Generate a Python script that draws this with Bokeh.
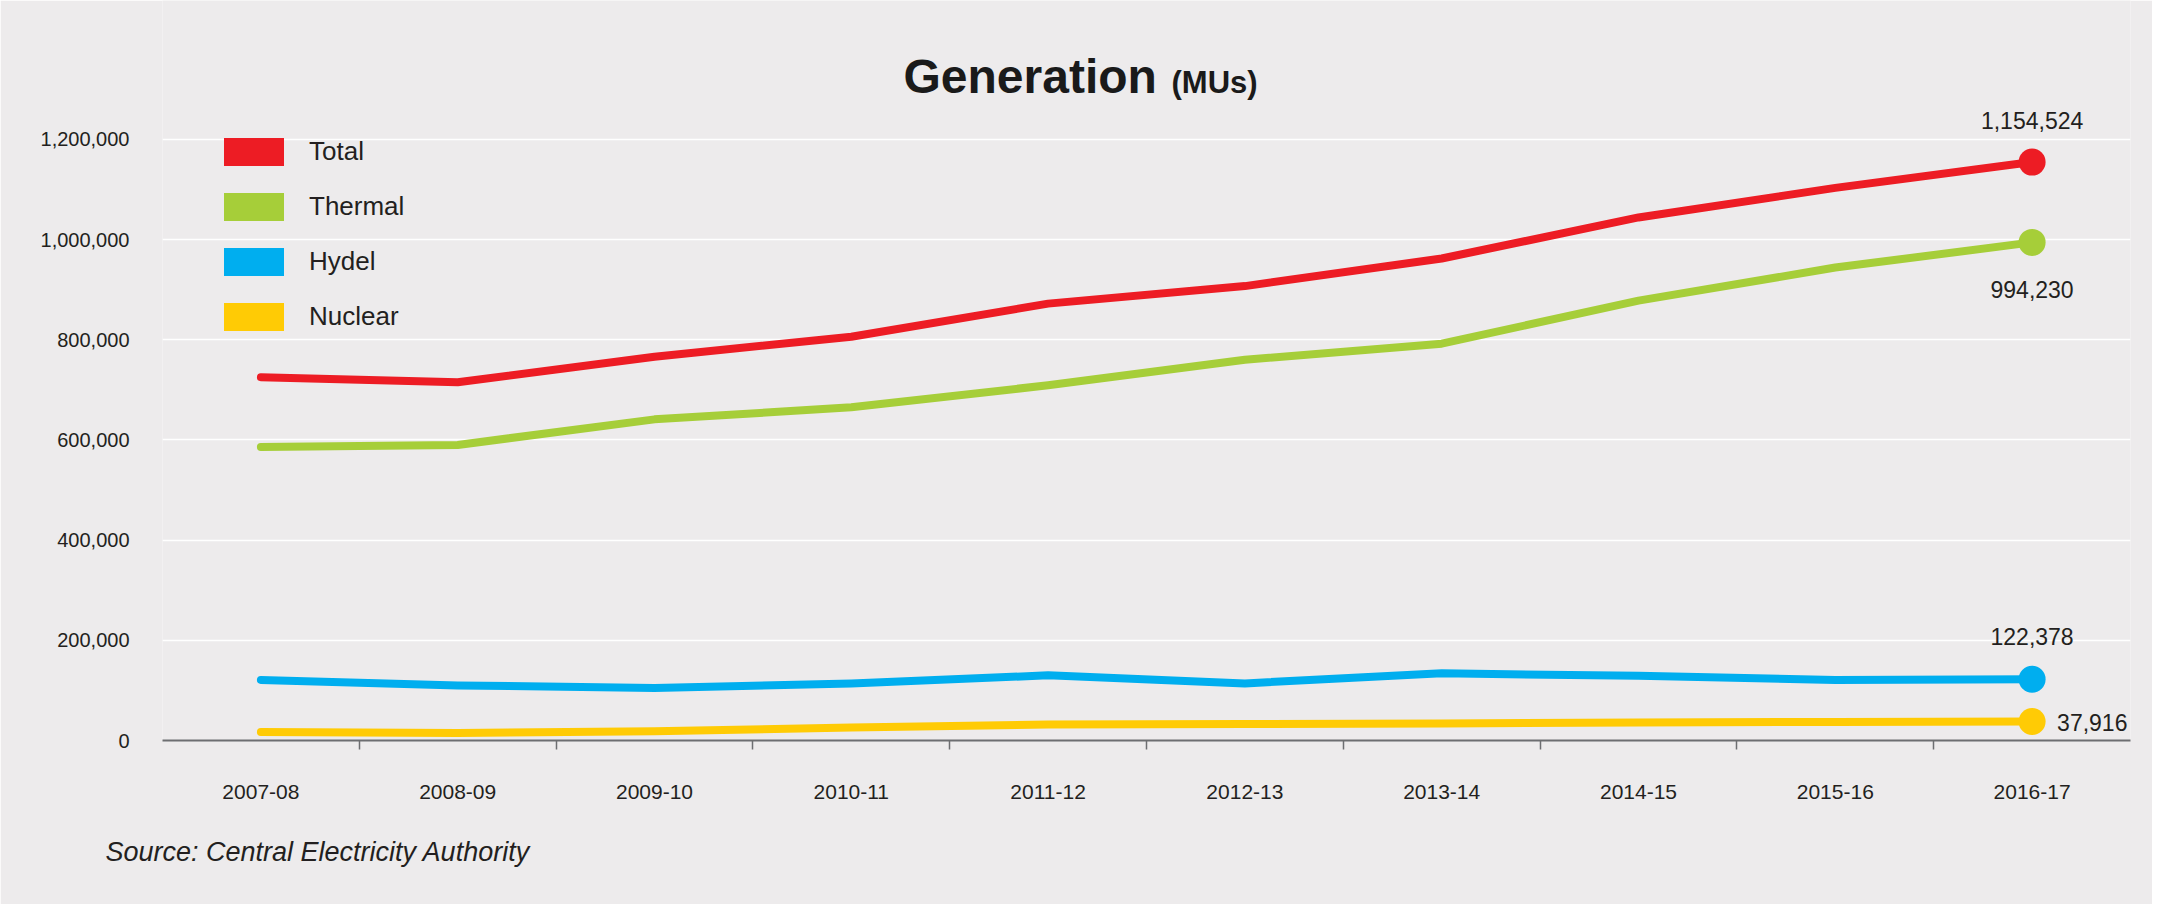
from bokeh.plotting import figure
from bokeh.models import (Range1d, FixedTicker, NumeralTickFormatter, Legend, LegendItem,
                          Label, LabelSet, ColumnDataSource, Title)
from bokeh.core.properties import value
from bokeh.embed import file_html
from bokeh.resources import INLINE

# ---------------- data ----------------
categories = ["2007-08", "2008-09", "2009-10", "2010-11", "2011-12",
              "2012-13", "2013-14", "2014-15", "2015-16", "2016-17"]
total = [725000, 715000, 766000, 806000, 872000, 907000, 962000, 1044000, 1103000, 1154524]
thermal = [586000, 590000, 641000, 665000, 709000, 760000, 792000, 878000, 944000, 994230]
hydel = [121000, 110000, 105000, 114000, 130000, 114000, 134000, 129000, 121000, 122378]
nuclear = [17000, 15000, 18500, 26000, 32000, 33000, 34000, 36000, 37000, 37916]
series_names = ["Total", "Thermal", "Hydel", "Nuclear"]
y_ticks = [0, 200000, 400000, 600000, 800000, 1000000, 1200000]
title_main = "Generation"
title_unit = "(MUs)"
source_note = "Source: Central Electricity Authority"

# ---------------- styles / layout ----------------
BG = "#EDEBEC"
INK = "#231F20"
COLORS = ["#ED1C24", "#A6CE39", "#00AEEF", "#FFCB05"]
FONT = "Liberation Sans"

W, H = 2152, 904
FRAME_LEFT, FRAME_RIGHT_PAD, FRAME_BOTTOM_PAD = 162, 22, 164
FRAME_H = H - FRAME_BOTTOM_PAD            # frame runs from canvas top to the x axis
PX_PER_TICK = 100.2                       # vertical pixels per 200,000 step
y_end = y_ticks[1] * FRAME_H / PX_PER_TICK

xs = list(range(len(categories)))
series = [total, thermal, hydel, nuclear]

p = figure(width=W, height=H, output_backend="svg", toolbar_location=None,
           x_range=Range1d(-0.5, len(categories) - 0.5),
           y_range=Range1d(0, y_end),
           min_border_left=FRAME_LEFT, min_border_right=FRAME_RIGHT_PAD,
           min_border_top=0, min_border_bottom=FRAME_BOTTOM_PAD)
p.background_fill_color = BG
p.border_fill_color = BG
p.outline_line_color = None

# grid
p.xgrid.grid_line_color = None
p.ygrid.grid_line_color = "#FFFFFF"
p.ygrid.grid_line_width = 1.5

# y axis
p.yaxis.ticker = FixedTicker(ticks=y_ticks)
p.yaxis.formatter = NumeralTickFormatter(format="0,0")
p.yaxis.axis_line_color = None
p.yaxis.major_tick_line_color = None
p.yaxis.minor_tick_line_color = None
p.yaxis.major_tick_out = 0
p.yaxis.major_label_standoff = 33
p.yaxis.major_label_text_font = FONT
p.yaxis.major_label_text_font_size = "20px"
p.yaxis.major_label_text_color = INK

# x axis: labels at category centres, tick marks between categories
p.xaxis.ticker = FixedTicker(ticks=xs, minor_ticks=[i + 0.5 for i in xs[:-1]])
p.xaxis.major_label_overrides = {i: c for i, c in enumerate(categories)}
p.xaxis.axis_line_color = "#6D6E71"
p.xaxis.axis_line_width = 2
p.xaxis.major_tick_line_color = None
p.xaxis.major_tick_out = 0
p.xaxis.major_tick_in = 0
p.xaxis.minor_tick_line_color = "#6D6E71"
p.xaxis.minor_tick_line_width = 1.5
p.xaxis.minor_tick_out = 9
p.xaxis.minor_tick_in = 0
p.xaxis.major_label_standoff = 35
p.xaxis.major_label_text_font = FONT
p.xaxis.major_label_text_font_size = "21px"
p.xaxis.major_label_text_color = INK

# lines and end dots
for vals, c in zip(series, COLORS):
    p.line(xs, vals, line_width=8, line_color=c, line_cap="round", line_join="round")
    p.scatter([xs[-1]], [vals[-1]], size=27, fill_color=c, line_color=None)

# end-value labels
label_styles = [(0, 42, "center"), (0, -47, "center"), (0, 43, "center"), (25, -1, "left")]
for vals, (dx, dy, align) in zip(series, label_styles):
    src = ColumnDataSource(dict(x=[xs[-1]], y=[vals[-1]], t=[f"{vals[-1]:,}"]))
    p.add_layout(LabelSet(x="x", y="y", text="t", source=src, x_offset=dx, y_offset=dy,
                          text_align=align, text_baseline="middle",
                          text_font=value(FONT), text_font_size="23px",
                          text_color=INK))

# legend with filled boxes (swatch renderers hold no visible data)
nan = float("nan")
items = []
for name, c in zip(series_names, COLORS):
    r = p.quad(left=[nan], right=[nan], top=[nan], bottom=[nan], fill_color=c, line_color=None)
    items.append(LegendItem(label=name, renderers=[r]))
legend = Legend(items=items, location=(54, 406), orientation="vertical",
                glyph_width=75, glyph_height=35, label_height=35,
                label_standoff=18, spacing=20, padding=0, margin=0,
                background_fill_alpha=0, border_line_color=None,
                label_text_font=FONT, label_text_font_size="26px",
                label_text_color=INK, label_text_baseline="middle")
p.add_layout(legend)

# title pieces
p.add_layout(Label(x=741, y=664, x_units="screen", y_units="screen", text=title_main,
                   text_font=FONT, text_font_style="bold", text_font_size="48px",
                   text_color="#1A1A1A", text_align="left", text_baseline="middle"))
p.add_layout(Label(x=1009, y=658, x_units="screen", y_units="screen", text=title_unit,
                   text_font=FONT, text_font_style="bold", text_font_size="31px",
                   text_color="#1A1A1A", text_align="left", text_baseline="middle"))

# source note below the axis
p.add_layout(Title(text=source_note, align="left", offset=-57, standoff=66,
                   text_font=FONT, text_font_style="italic", text_font_size="27px",
                   text_color=INK), "below")

open("out.html", "w").write(file_html(p, INLINE))
